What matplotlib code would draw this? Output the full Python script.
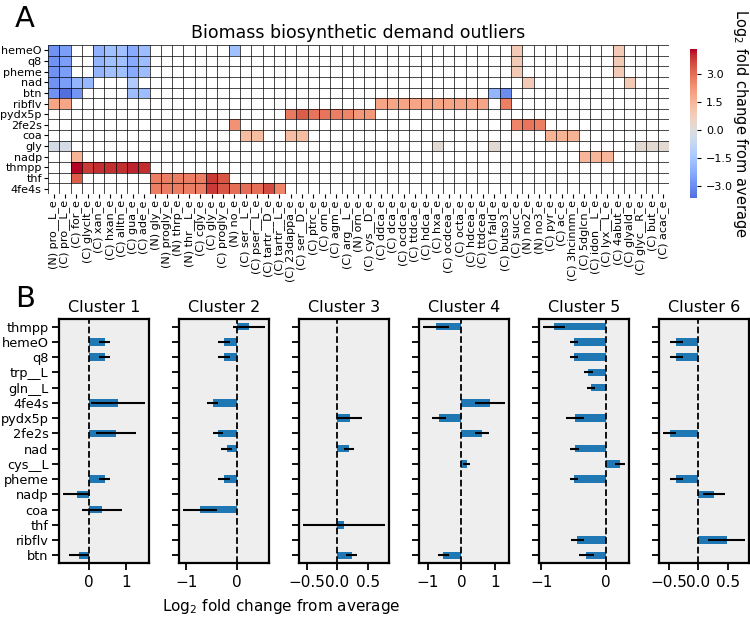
import numpy as np
import matplotlib
matplotlib.use("Agg")
import matplotlib.pyplot as plt
from matplotlib.colors import ListedColormap, Normalize


# -----------------------------
# Panel A: heatmap data
# -----------------------------
heat_rows = ["hemeO", "q8", "pheme", "nad", "btn", "ribflv", "pydx5p", "2fe2s",
             "coa", "gly", "nadp", "thmpp", "thf", "4fe4s"]

heat_cols = [
    "(N) pro__L_e", "(C) pro__L_e", "(C) for_e", "(C) glyclt_e", "(C) xan_e",
    "(C) hxan_e", "(C) alltn_e", "(C) gua_e", "(C) ade_e", "(N) gly_e",
    "(N) progly_e", "(N) thrp_e", "(N) thr__L_e", "(C) cgly_e", "(C) gly_e",
    "(C) progly_e", "(N) no_e", "(C) ser__L_e", "(C) pser__L_e", "(C) tartr__D_e",
    "(C) tartr__L_e", "(C) 23dappa_e", "(C) ser__D_e", "(C) ptrc_e", "(C) orn_e",
    "(C) agm_e", "(C) arg__L_e", "(N) orn_e", "(C) cys__D_e", "(C) ddca_e",
    "(C) dca_e", "(C) ocdca_e", "(C) ttdca_e", "(C) hdca_e", "(C) hxa_e",
    "(C) ocdcea_e", "(C) octa_e", "(C) hdcea_e", "(C) ttdcea_e", "(C) fald_e",
    "(C) butso3_e", "(C) succ_e", "(N) no2_e", "(N) no3_e", "(C) pyr_e",
    "(C) ac_e", "(C) 3hcinnm_e", "(C) 5dglcn_e", "(C) idon__L_e", "(C) lyx__L_e",
    "(C) 4abut_e", "(C) glyald_e", "(C) glyc__R_e", "(C) but_e", "(C) acac_e",
]

# outlier cells (row -> {column: log2 fold change}); everything else is empty
hemeO_vals = {"(N) pro__L_e": -2.9, "(C) pro__L_e": -2.6, "(C) xan_e": -2.1,
              "(C) hxan_e": -1.7, "(C) alltn_e": -1.7, "(C) gua_e": -2.3,
              "(C) ade_e": -1.8, "(N) no_e": -1.7, "(C) succ_e": 0.9, "(C) 4abut_e": 0.9}
q8_vals = {"(N) pro__L_e": -2.9, "(C) pro__L_e": -2.6, "(C) xan_e": -2.0,
           "(C) hxan_e": -1.7, "(C) alltn_e": -1.7, "(C) gua_e": -2.3,
           "(C) ade_e": -1.8, "(C) succ_e": 0.9, "(C) 4abut_e": 0.9}
pheme_vals = {"(N) pro__L_e": -2.9, "(C) pro__L_e": -2.6, "(C) xan_e": -2.0,
              "(C) hxan_e": -1.7, "(C) alltn_e": -1.7, "(C) gua_e": -2.3,
              "(C) ade_e": -1.8, "(C) succ_e": 0.9, "(C) 4abut_e": 0.9}
nad_vals = {"(N) pro__L_e": -2.9, "(C) pro__L_e": -2.6, "(C) for_e": -2.0,
            "(C) glyclt_e": -1.9, "(C) gua_e": -1.3, "(N) no2_e": 0.9, "(C) glyald_e": 0.9}
btn_vals = {"(N) pro__L_e": -2.9, "(C) pro__L_e": -3.65, "(C) for_e": -2.8,
            "(C) gua_e": -1.8, "(C) ade_e": -1.8, "(C) fald_e": -2.0, "(C) butso3_e": -3.0}
ribflv_vals = {"(N) pro__L_e": 1.9, "(C) pro__L_e": 1.9, "(C) ddca_e": 1.9,
               "(C) dca_e": 1.9, "(C) ocdca_e": 1.9, "(C) ttdca_e": 1.9,
               "(C) hdca_e": 1.9, "(C) hxa_e": 1.9, "(C) ocdcea_e": 1.9,
               "(C) octa_e": 1.9, "(C) hdcea_e": 1.9, "(C) ttdcea_e": 1.9,
               "(C) butso3_e": 2.7}
pydx5p_vals = {"(C) 23dappa_e": 2.8, "(C) ser__D_e": 3.3, "(C) ptrc_e": 2.9,
               "(C) orn_e": 2.9, "(C) agm_e": 2.7, "(C) arg__L_e": 2.6,
               "(N) orn_e": 2.2, "(C) cys__D_e": 2.2}
fe2s_vals = {"(N) no_e": 2.3, "(C) succ_e": 2.6, "(N) no2_e": 2.9, "(N) no3_e": 2.7}
coa_vals = {"(C) ser__L_e": 1.3, "(C) pser__L_e": 1.3, "(C) 23dappa_e": 1.3,
            "(C) ser__D_e": 1.3, "(C) pyr_e": 1.6, "(C) ac_e": 1.6, "(C) 3hcinnm_e": 1.6}
gly_vals = {"(N) pro__L_e": -0.3, "(C) pro__L_e": -0.3, "(C) hxa_e": 0.2,
            "(C) fald_e": 0.2, "(C) glyc__R_e": 0.2, "(C) but_e": 0.2, "(C) acac_e": 0.2}
nadp_vals = {"(C) for_e": 1.6, "(C) 5dglcn_e": 1.5, "(C) idon__L_e": 1.5, "(C) lyx__L_e": 1.5}
thmpp_vals = {"(C) for_e": 4.36, "(C) glyclt_e": 3.8, "(C) xan_e": 4.0,
              "(C) hxan_e": 4.0, "(C) alltn_e": 4.0, "(C) gua_e": 4.1, "(C) ade_e": 4.0}
thf_vals = {"(C) for_e": 3.3, "(N) gly_e": 2.7, "(N) progly_e": 2.7, "(N) thrp_e": 2.7,
            "(N) thr__L_e": 2.7, "(C) cgly_e": 2.7, "(C) gly_e": 3.8, "(C) progly_e": 3.4}
fe4s_vals = {"(N) gly_e": 2.7, "(N) progly_e": 2.7, "(N) thrp_e": 2.7,
             "(N) thr__L_e": 2.7, "(C) cgly_e": 2.7, "(C) gly_e": 3.8, "(C) progly_e": 3.4,
             "(N) no_e": 3.0, "(C) ser__L_e": 3.0, "(C) pser__L_e": 3.0,
             "(C) tartr__D_e": 3.6, "(C) tartr__L_e": 2.6}

row_values = [hemeO_vals, q8_vals, pheme_vals, nad_vals, btn_vals, ribflv_vals,
              pydx5p_vals, fe2s_vals, coa_vals, gly_vals, nadp_vals, thmpp_vals,
              thf_vals, fe4s_vals]

# -----------------------------
# Panel B: cluster bar data
# -----------------------------
bar_labels = ["thmpp", "hemeO", "q8", "trp__L", "gln__L", "4fe4s", "pydx5p", "2fe2s",
              "nad", "cys__L", "pheme", "nadp", "coa", "thf", "ribflv", "btn"]
nan = np.nan
c1_mean = [nan, 0.42, 0.42, nan, nan, 0.78, nan, 0.73, nan, nan, 0.42, -0.33, 0.35, nan, nan, -0.28]
c1_err = [nan, 0.16, 0.16, nan, nan, 0.73, nan, 0.53, nan, nan, 0.16, 0.37, 0.55, nan, nan, 0.27]
c2_mean = [0.24, -0.25, -0.25, nan, nan, -0.47, nan, -0.36, -0.20, nan, -0.25, nan, -0.72, nan, nan, nan]
c2_err = [0.32, 0.12, 0.12, nan, nan, 0.11, nan, 0.10, 0.11, nan, 0.12, nan, 0.34, nan, nan, nan]
c3_mean = [nan, nan, nan, nan, nan, nan, 0.21, nan, 0.19, nan, nan, nan, nan, 0.11, nan, 0.24]
c3_err = [nan, nan, nan, nan, nan, nan, 0.20, nan, 0.08, nan, nan, nan, nan, 0.67, nan, 0.09]
c4_mean = [-0.75, nan, nan, nan, nan, 0.84, -0.66, 0.60, nan, 0.16, nan, nan, nan, nan, nan, -0.53]
c4_err = [0.38, nan, nan, nan, nan, 0.44, 0.20, 0.21, nan, 0.10, nan, nan, nan, nan, nan, 0.16]
c5_mean = [-0.80, -0.49, -0.49, -0.27, -0.23, nan, -0.48, nan, -0.48, 0.22, -0.49, nan, nan, nan, -0.44, -0.30]
c5_err = [0.17, 0.06, 0.06, 0.07, 0.06, nan, 0.14, nan, 0.07, 0.08, 0.06, nan, nan, nan, 0.10, 0.12]
c6_mean = [nan, -0.38, -0.38, nan, nan, nan, nan, -0.49, nan, nan, -0.38, 0.27, nan, nan, 0.48, nan]
c6_err = [nan, 0.11, 0.11, nan, nan, nan, nan, 0.11, nan, nan, 0.11, 0.19, nan, nan, 0.31, nan]

cluster_names = ["Cluster 1", "Cluster 2", "Cluster 3", "Cluster 4", "Cluster 5", "Cluster 6"]
cluster_means = [c1_mean, c2_mean, c3_mean, c4_mean, c5_mean, c6_mean]
cluster_errs = [c1_err, c2_err, c3_err, c4_err, c5_err, c6_err]
cluster_ticks = [[0, 1], [-1, 0], [-0.5, 0.0, 0.5], [-1, 0, 1], [-1, 0], [-0.5, 0.0, 0.5]]


# -----------------------------
# Build matrix
# -----------------------------
M = np.full((len(heat_rows), len(heat_cols)), np.nan)
for i, vals in enumerate(row_values):
    for col, v in vals.items():
        M[i, heat_cols.index(col)] = v

# centred coolwarm, cropped to the data range (as seaborn does with center=0)
vmin, vmax = np.nanmin(M), np.nanmax(M)
vrange = max(vmax, -vmin)
lo, hi = Normalize(-vrange, vrange)([vmin, vmax])
cmap = ListedColormap(plt.get_cmap("coolwarm")(np.linspace(lo, hi, 256)))

W, H = 750, 619
fig = plt.figure(figsize=(W / 100, H / 100), dpi=100)


def px(x0, y0, x1, y1):
    return [x0 / W, 1 - y1 / H, (x1 - x0) / W, (y1 - y0) / H]


ax = fig.add_axes(px(48, 45, 669, 194))
nr, nc = M.shape
mesh = ax.pcolormesh(np.arange(nc + 1), np.arange(nr + 1), np.ma.masked_invalid(M),
                     cmap=cmap, vmin=vmin, vmax=vmax)
ax.vlines(np.arange(nc + 1), 0, nr, color="k", lw=0.5)
ax.hlines(np.arange(nr + 1), 0, nc, color="k", lw=0.5)
ax.set_xlim(0, nc)
ax.set_ylim(nr, 0)
ax.set_xticks(np.arange(nc) + 0.5)
ax.set_xticklabels(heat_cols, rotation=90, fontsize=8)
ax.set_yticks(np.arange(nr) + 0.5)
ax.set_yticklabels(heat_rows, fontsize=8)
ax.tick_params(length=3, width=0.8, pad=1.5)
for s in ax.spines.values():
    s.set_visible(False)
ax.set_title("Biomass biosynthetic demand outliers", fontsize=12.5, pad=5)

cax = fig.add_axes(px(690, 49, 697, 198))
cb = fig.colorbar(mesh, cax=cax, ticks=[-3.0, -1.5, 0.0, 1.5, 3.0])
cb.outline.set_visible(False)
cb.ax.tick_params(labelsize=8, length=3, width=0.8)
cb.set_label("Log$_2$ fold change from average", rotation=270, fontsize=10.5, labelpad=12)

fig.text(15 / W, 1 - 27 / H, "A", fontsize=21)
fig.text(15 / W, 1 - 307 / H, "B", fontsize=21)

# -----------------------------
# Panel B
# -----------------------------
ypos = np.arange(len(bar_labels))
for k in range(6):
    x0 = 59 + 120 * k
    axb = fig.add_axes(px(x0, 319, x0 + 90, 563))
    axb.set_facecolor("#eeeeee")
    m = np.array(cluster_means[k], float)
    e = np.array(cluster_errs[k], float)
    ok = np.isfinite(m)
    axb.barh(ypos[ok], m[ok], height=0.5, color="#1f77b4", xerr=e[ok],
             error_kw=dict(ecolor="k", elinewidth=1.5, capsize=0))
    axb.axvline(0, color="k", ls="--", lw=1.3)
    axb.set_ylim(len(bar_labels) - 0.5, -0.5)
    axb.set_xticks(cluster_ticks[k])
    axb.set_yticks(ypos)
    if k == 0:
        axb.set_yticklabels(bar_labels, fontsize=9.3)
    else:
        axb.set_yticklabels([])
    axb.tick_params(axis="x", labelsize=11, length=5, width=1.3)
    axb.tick_params(axis="y", length=5, width=1.3, pad=2.5)
    for s in axb.spines.values():
        s.set_linewidth(1.6)
    axb.set_title(cluster_names[k], fontsize=11.5, pad=5)

fig.text(281 / W, 1 - 607 / H, "Log$_2$ fold change from average",
         fontsize=11, ha="center", va="center")

fig.savefig("out.png", dpi=100)
